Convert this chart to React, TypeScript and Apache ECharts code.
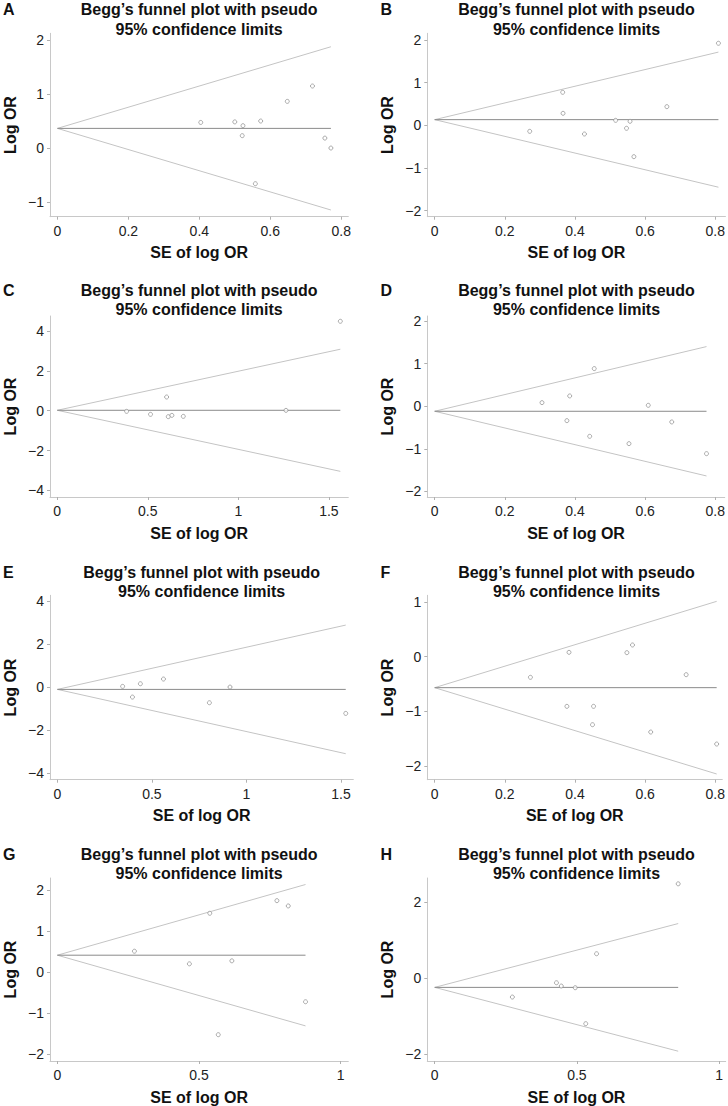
import React, { useEffect, useRef } from "react";
import * as echarts from "echarts";

const panelLabels = ["A", "B", "C", "D", "E", "F", "G", "H"];
const titleLine1 = "Begg\u2019s funnel plot with pseudo";
const titleLine2 = "95% confidence limits";
const xAxisTitle = "SE of log OR";
const yAxisTitle = "Log OR";

const seA = [0.404, 0.5, 0.523, 0.521, 0.573, 0.648, 0.719, 0.754, 0.771, 0.558];
const lorA = [0.48, 0.49, 0.42, 0.235, 0.506, 0.87, 1.154, 0.19, 0.006, -0.654];
const seB = [0.271, 0.365, 0.366, 0.427, 0.516, 0.547, 0.557, 0.568, 0.662, 0.809];
const lorB = [-0.141, 0.775, 0.282, -0.204, 0.117, -0.07, 0.094, -0.736, 0.438, 1.926];
const seC = [0.383, 0.515, 0.604, 0.613, 0.633, 0.696, 1.263, 1.563];
const lorC = [-0.033, -0.184, 0.686, -0.3, -0.234, -0.285, 0.017, 4.485];
const seD = [0.306, 0.377, 0.385, 0.442, 0.455, 0.554, 0.609, 0.676, 0.775];
const lorD = [0.086, -0.337, 0.243, -0.705, 0.885, -0.877, 0.023, -0.368, -1.112];
const seE = [0.345, 0.397, 0.439, 0.561, 0.804, 0.913, 1.525];
const lorE = [0.047, -0.45, 0.17, 0.388, -0.713, 0.016, -1.209];
const seF = [0.273, 0.377, 0.383, 0.45, 0.453, 0.548, 0.564, 0.616, 0.717, 0.804];
const lorF = [-0.377, -0.907, 0.079, -1.242, -0.907, 0.073, 0.213, -1.376, -0.329, -1.595];
const seG = [0.272, 0.466, 0.538, 0.568, 0.616, 0.775, 0.815, 0.876];
const lorG = [0.509, 0.202, 1.43, -1.519, 0.275, 1.737, 1.608, -0.719];
const seH = [0.273, 0.428, 0.445, 0.494, 0.531, 0.569, 0.856];
const lorH = [-0.499, -0.123, -0.21, -0.254, -1.199, 0.639, 2.477];

const seList = [seA, seB, seC, seD, seE, seF, seG, seH];
const lorList = [lorA, lorB, lorC, lorD, lorE, lorF, lorG, lorH];
const pooled = [0.37, 0.133, 0.02, -0.117, -0.093, -0.566, 0.412, -0.245];
const zCrit = 1.96;

const xTicks = [
  [0, 0.2, 0.4, 0.6, 0.8],
  [0, 0.2, 0.4, 0.6, 0.8],
  [0, 0.5, 1, 1.5],
  [0, 0.2, 0.4, 0.6, 0.8],
  [0, 0.5, 1, 1.5],
  [0, 0.2, 0.4, 0.6, 0.8],
  [0, 0.5, 1],
  [0, 0.5, 1],
];
const yTicks = [
  [-1, 0, 1, 2],
  [-2, -1, 0, 1, 2],
  [-4, -2, 0, 2, 4],
  [-2, -1, 0, 1, 2],
  [-4, -2, 0, 2, 4],
  [-2, -1, 0, 1],
  [-2, -1, 0, 1, 2],
  [-2, 0, 2],
];
const xRange = [
  [-0.021, 0.82],
  [-0.021, 0.829],
  [-0.04, 1.607],
  [-0.021, 0.827],
  [-0.039, 1.565],
  [-0.021, 0.82],
  [-0.026, 1.027],
  [-0.026, 1.023],
];
const yRange = [
  [-1.265, 2.13],
  [-2.145, 2.16],
  [-4.33, 4.75],
  [-2.13, 2.12],
  [-4.29, 4.28],
  [-2.246, 1.12],
  [-2.158, 2.287],
  [-2.18, 2.63],
];

const FONT = "'Liberation Sans', Arial, Helvetica, sans-serif";

export default function App() {
  const ref = useRef<HTMLDivElement>(null);
  useEffect(() => {
    document.body.style.margin = "0";
    if (!ref.current) return;
    const chart = echarts.init(ref.current, undefined, { renderer: "svg" });

    const colLeft = [50, 427.3];
    const colWidth = [298.3, 298.4];
    const rowTop = [33.3, 316, 595.3, 878];
    const rowBottom = [216.7, 497, 779.7, 1061.3];
    const title1Y = [9.5, 290, 572, 854];
    const title2Y = [29.3, 309.3, 591, 873];

    const grids: any[] = [];
    const xAxes: any[] = [];
    const yAxes: any[] = [];
    const series: any[] = [];
    const graphics: any[] = [];

    for (let i = 0; i < 8; i++) {
      const col = i % 2;
      const row = Math.floor(i / 2);
      const w = i === 4 ? 303.3 : colWidth[col];
      grids.push({
        left: colLeft[col],
        top: rowTop[row],
        width: w,
        height: rowBottom[row] - rowTop[row],
        containLabel: false,
      });
      xAxes.push({
        type: "value",
        gridIndex: i,
        min: xRange[i][0],
        max: xRange[i][1],
        name: xAxisTitle,
        nameLocation: "middle",
        nameGap: 36,
        nameTextStyle: {
          fontFamily: FONT,
          fontSize: 16,
          fontWeight: "bold",
          color: "#111",
          verticalAlign: "middle",
        },
        axisLine: { show: true, onZero: false, lineStyle: { color: "#c8c8c8", width: 1 } },
        axisTick: { show: true, length: 3, customValues: xTicks[i], lineStyle: { color: "#b0b0b0" } },
        axisLabel: {
          customValues: xTicks[i],
          margin: 7,
          fontFamily: FONT,
          fontSize: 14,
          color: "#222",
          formatter: (v: number) => String(v).replace("-", "\u2212"),
        },
        splitLine: { show: false },
      });
      yAxes.push({
        type: "value",
        gridIndex: i,
        min: yRange[i][0],
        max: yRange[i][1],
        name: yAxisTitle,
        nameLocation: "middle",
        nameGap: 40,
        nameTextStyle: {
          fontFamily: FONT,
          fontSize: 16,
          fontWeight: "bold",
          color: "#111",
          verticalAlign: "middle",
        },
        axisLine: { show: true, onZero: false, lineStyle: { color: "#c8c8c8", width: 1 } },
        axisTick: { show: true, length: 3, customValues: yTicks[i], lineStyle: { color: "#b0b0b0" } },
        axisLabel: {
          customValues: yTicks[i],
          margin: 6,
          fontFamily: FONT,
          fontSize: 14,
          color: "#222",
          formatter: (v: number) => String(v).replace("-", "\u2212"),
        },
        splitLine: { show: false },
      });

      const se = seList[i];
      const lor = lorList[i];
      const p = pooled[i];
      const maxSE = Math.max(...se);
      const lineBase = {
        type: "line",
        xAxisIndex: i,
        yAxisIndex: i,
        showSymbol: false,
        symbol: "none",
        silent: true,
        z: 2,
      };
      series.push({
        ...lineBase,
        data: [
          [0, p],
          [maxSE, p + zCrit * maxSE],
        ],
        lineStyle: { color: "#c4c4c4", width: 1 },
      });
      series.push({
        ...lineBase,
        data: [
          [0, p],
          [maxSE, p - zCrit * maxSE],
        ],
        lineStyle: { color: "#c4c4c4", width: 1 },
      });
      series.push({
        ...lineBase,
        data: [
          [0, p],
          [maxSE, p],
        ],
        lineStyle: { color: "#8a8a8a", width: 1 },
      });
      series.push({
        type: "scatter",
        xAxisIndex: i,
        yAxisIndex: i,
        symbol: "circle",
        symbolSize: 4,
        z: 3,
        data: se.map((s, k) => [s, lor[k]]),
        itemStyle: { color: "#ffffff", borderColor: "#8a8a8a", borderWidth: 0.9 },
      });

      const cx = colLeft[col] + w / 2;
      graphics.push({
        type: "text",
        x: cx,
        y: title1Y[row],
        style: {
          text: titleLine1,
          fill: "#111",
          font: `bold 16px ${FONT}`,
          textAlign: "center",
          textVerticalAlign: "middle",
        },
      });
      graphics.push({
        type: "text",
        x: cx,
        y: title2Y[row],
        style: {
          text: titleLine2,
          fill: "#111",
          font: `bold 16px ${FONT}`,
          textAlign: "center",
          textVerticalAlign: "middle",
        },
      });
      graphics.push({
        type: "text",
        x: col === 0 ? 3 : 380.5,
        y: title1Y[row],
        style: {
          text: panelLabels[i],
          fill: "#111",
          font: `bold 16px ${FONT}`,
          textAlign: "left",
          textVerticalAlign: "middle",
        },
      });
    }

    chart.setOption({
      animation: false,
      backgroundColor: "#ffffff",
      textStyle: { fontFamily: FONT },
      grid: grids,
      xAxis: xAxes,
      yAxis: yAxes,
      series,
      graphic: graphics,
    });
    return () => chart.dispose();
  }, []);
  return <div ref={ref} style={{ width: 728, height: 1106 }} />;
}
